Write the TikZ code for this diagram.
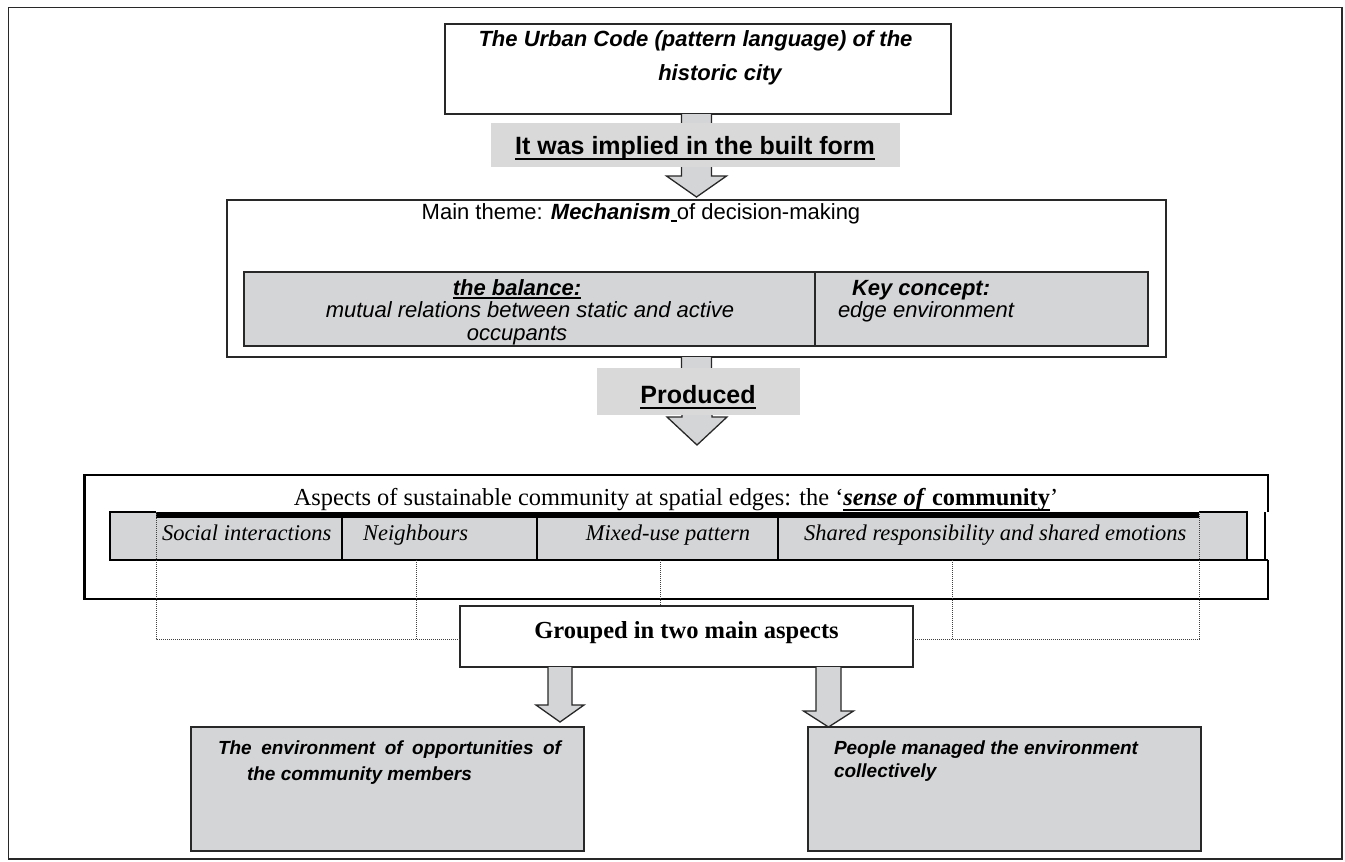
\documentclass[tikz,border=0pt]{standalone}
\usepackage{fontspec}
\setmainfont{Liberation Sans}
\newfontfamily\tnr{Liberation Serif}
\usetikzlibrary{calc}
\definecolor{boxgray}{RGB}{212,213,215}
\definecolor{labgray}{RGB}{217,217,217}
\definecolor{edgecol}{RGB}{40,40,40}
\newlength\ulwd
\newcommand\myul[2][3pt]{\settowidth\ulwd{#2}\rlap{\rule[-#1]{\ulwd}{2pt}}#2}
\begin{document}
\begin{tikzpicture}[x=1pt,y=-1pt,
  frame/.style={draw=edgecol, line width=1.5pt},
  plainbox/.style={draw=edgecol, line width=1.5pt, inner sep=0pt, outer sep=0pt},
  graybox/.style={plainbox, fill=boxgray},
  grayfill/.style={fill=boxgray, inner sep=0pt, outer sep=0pt},
  labelbox/.style={fill=labgray, inner sep=0pt, outer sep=0pt},
  txt/.style={inner sep=0pt, outer sep=0pt, anchor=base},
  blockarrow/.style={fill=boxgray, draw=edgecol, line width=1.3pt, line join=miter},
  dots/.style={draw=black!75, line width=1pt, dash pattern=on 1pt off 1pt},
  heavy/.style={draw=black, line width=2.5pt}
]
\useasboundingbox (0,0) rectangle (1345,862);
\fill[white] (0,0) rectangle (1345,862);
\draw[frame] (8.5,7.5) rectangle (1342,859);

% ---------- top box ----------
\node[plainbox, minimum width=506, minimum height=90, anchor=north west] (top) at (445,24) {};
\node[txt, font=\bfseries\itshape\fontsize{22}{26}\selectfont] (tt1) at (695.5,46) {The Urban Code (pattern language) of the};
\node[txt, font=\bfseries\itshape\fontsize{22}{26}\selectfont] (tt2) at (720,80) {historic city};

% ---------- main theme box ----------
\node[plainbox, minimum width=939, minimum height=157, anchor=north west] (main) at (227,200) {};
\node[graybox, minimum width=571, minimum height=74, anchor=north west] (bal) at (244,272) {};
\node[graybox, minimum width=333, minimum height=74, anchor=north west] (key) at (815,272) {};
\node[txt, font=\fontsize{22}{26}\selectfont] (mt) at (641,219) {Main theme: \textbf{\textit{Mechanism}}\myul[3pt]{\ }of decision-making};
\node[txt, font=\bfseries\itshape\fontsize{22}{26}\selectfont] (bal1) at (517,295) {\myul[4pt]{the balance:}};
\node[txt, font=\itshape\fontsize{22}{26}\selectfont] (bal2) at (530,317) {mutual relations between static and active};
\node[txt, font=\itshape\fontsize{22}{26}\selectfont] (bal3) at (517,340) {occupants};
\node[txt, anchor=base west, font=\bfseries\itshape\fontsize{22}{26}\selectfont] (key1) at (852,295) {Key concept:};
\node[txt, anchor=base west, font=\itshape\fontsize{22}{26}\selectfont] (key2) at (838,317) {edge environment};

% ---------- arrow 1 ----------
\draw[blockarrow] ($(main.north|-top.south)+(-15,0)$) -- ($(main.north)+(-15,-24)$) -- ($(main.north)+(-30,-24)$) -- ($(main.north)+(0,-3)$) -- ($(main.north)+(30,-24)$) -- ($(main.north)+(15,-24)$) -- ($(main.north|-top.south)+(15,0)$);
\node[labelbox, minimum width=409, minimum height=44, anchor=north west] (lab1) at (491,123) {};
\node[txt, font=\bfseries\fontsize{25}{30}\selectfont] (lab1t) at (695,154) {\myul[6pt]{It was implied in the built form}};

% ---------- arrow 2 ----------
\coordinate (tip2) at (697,445);
\draw[blockarrow] ($(main.south)+(-15,0)$) -- ($(tip2)+(-15,-28)$) -- ($(tip2)+(-30,-28)$) -- (tip2) -- ($(tip2)+(30,-28)$) -- ($(tip2)+(15,-28)$) -- ($(main.south)+(15,0)$);
\node[labelbox, minimum width=203, minimum height=47, anchor=north west] (lab2) at (597,368) {};
\node[txt, font=\bfseries\fontsize{25}{30}\selectfont] (lab2t) at (698,403) {\myul[6pt]{Produced}};

% ---------- aspects box ----------
\node[grayfill, minimum width=46, minimum height=48, anchor=north west] (c0) at (110,512) {};
\node[grayfill, minimum width=186, minimum height=48, anchor=north west] (c1) at (156,512) {};
\node[grayfill, minimum width=195, minimum height=48, anchor=north west] (c2) at (342,512) {};
\node[grayfill, minimum width=241, minimum height=48, anchor=north west] (c3) at (537,512) {};
\node[grayfill, minimum width=421, minimum height=48, anchor=north west] (c4) at (778,512) {};
\node[grayfill, minimum width=48, minimum height=48, anchor=north west] (c5) at (1199,512) {};
\draw[heavy] (1268,512) -- (1268,475) -- (84.5,475) -- (84.5,599) -- (1268,599) -- (1268,560);
\draw[heavy, line width=2pt] (1265,512) -- (1265,560);
\draw[heavy, line width=2pt] (c0.north east) -- (c0.north west) -- (c0.south west) -- (1268,560);
\draw[heavy, line width=2pt] (c5.north west) -- (c5.north east) -- (c5.south east);
\fill[black] (c1.north west) rectangle ($(c4.north east)+(0,5.5)$);
\draw[heavy, line width=2pt] ($(c2.north west)+(0,5)$) -- (c2.south west);
\draw[heavy, line width=2pt] ($(c3.north west)+(0,5)$) -- (c3.south west);
\draw[heavy, line width=2pt] ($(c4.north west)+(0,5)$) -- (c4.south west);
\node[txt, font=\tnr\fontsize{24.4}{29}\selectfont] (asptitle) at (676,505) {Aspects of sustainable community at spatial edges: the ‘\myul[6pt]{\textbf{\textit{sense of}} \textbf{community}}’};
\node[txt, anchor=base west, font=\tnr\itshape\fontsize{22.5}{27}\selectfont] (c1t) at (162,540) {Social interactions};
\node[txt, anchor=base west, font=\tnr\itshape\fontsize{22.5}{27}\selectfont] (c2t) at (363,540) {Neighbours};
\node[txt, font=\tnr\itshape\fontsize{22.5}{27}\selectfont] (c3t) at (668,540) {Mixed-use pattern};
\node[txt, anchor=base west, font=\tnr\itshape\fontsize{22.5}{27}\selectfont] (c4t) at (804,540) {Shared responsibility and shared emotions};

% ---------- grouped box ----------
\node[plainbox, fill=white, minimum width=453, minimum height=61, anchor=north west] (grp) at (460,606) {};
\node[txt, font=\tnr\bfseries\fontsize{24.5}{29}\selectfont] (grpt) at (686.5,638) {Grouped in two main aspects};

% dotted connectors
\coordinate (j1) at (156,639);
\coordinate (j2) at (416,639);
\coordinate (j4) at (952,639);
\coordinate (j5) at (1199,639);
\draw[dots] (c1.north west) -- (j1) -- (grp.west |- j1);
\draw[dots] (c2.south west -| j2) -- (j2);
\draw[dots] ($(c3.south west)+(123,0)$) -- ($(grp.north west)+(200,0)$);
\draw[dots] (c4.south west -| j4) -- (j4);
\draw[dots] (c5.north west) -- (j5) -- (grp.east |- j5);

% ---------- bottom boxes ----------
\node[graybox, minimum width=393, minimum height=124, anchor=north west] (envL) at (191,727) {};
\node[graybox, minimum width=393, minimum height=124, anchor=north west] (envR) at (808,727) {};
\node[txt, anchor=base west, font=\bfseries\itshape\fontsize{19}{23}\selectfont] (envL1) at (218,754) {\makebox[343pt][s]{The environment of opportunities of}};
\node[txt, anchor=base west, font=\bfseries\itshape\fontsize{19}{23}\selectfont] (envL2) at (247,780) {the community members};
\node[txt, anchor=base west, font=\bfseries\itshape\fontsize{19}{23}\selectfont] (envR1) at (834,754) {People managed the environment};
\node[txt, anchor=base west, font=\bfseries\itshape\fontsize{19}{23}\selectfont] (envR2) at (834,777) {collectively};

% bottom arrows
\coordinate (tipL) at (560,722);
\draw[blockarrow] ($(grp.south -| tipL)+(-12,0)$) -- ($(tipL)+(-12,-17)$) -- ($(tipL)+(-24,-17)$) -- (tipL) -- ($(tipL)+(24,-17)$) -- ($(tipL)+(12,-17)$) -- ($(grp.south -| tipL)+(12,0)$);
\coordinate (tipR) at (828.5,727);
\draw[blockarrow] ($(grp.south -| tipR)+(-12.5,0)$) -- ($(envR.north -| tipR)+(-12.5,-16)$) -- ($(envR.north -| tipR)+(-25,-16)$) -- (tipR) -- ($(envR.north -| tipR)+(25,-16)$) -- ($(envR.north -| tipR)+(12.5,-16)$) -- ($(grp.south -| tipR)+(12.5,0)$);
\end{tikzpicture}
\end{document}
